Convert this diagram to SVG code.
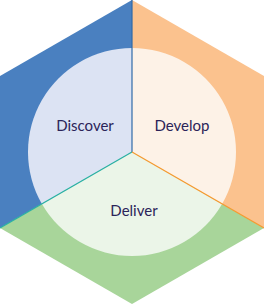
<svg xmlns="http://www.w3.org/2000/svg" width="264" height="304" viewBox="0 0 264 304">
<style>
.lbl{font-family:Lato,"Open Sans",sans-serif;font-size:15px;fill:#2b2459;text-anchor:middle}
.ln{stroke-width:1.2;fill:none}
</style>
<rect width="264" height="304" fill="#ffffff"/>
<g id="discover">
<path d="M132,152 L132,0 L0,76 L0,228 Z" fill="#4a80c0"/>
<path d="M132,152 L132,48 A104,104 0 0 0 41.93,204 Z" fill="#dce3f3"/>
<text class="lbl" x="85" y="131">Discover</text>
</g>
<g id="develop">
<path d="M132,152 L132,0 L264,76 L264,228 Z" fill="#fbc28e"/>
<path d="M132,152 L132,48 A104,104 0 0 1 222.07,204 Z" fill="#fdf2e7"/>
<text class="lbl" x="182" y="131">Develop</text>
</g>
<g id="deliver">
<path d="M132,152 L0,228 L132,304 L264,228 Z" fill="#a8d59a"/>
<path d="M132,152 L41.93,204 A104,104 0 0 0 222.07,204 Z" fill="#ebf5e8"/>
<text class="lbl" x="134" y="216">Deliver</text>
</g>
<g id="connectors">
<line class="ln" x1="132" y1="152" x2="132" y2="0" stroke="#2f6aa8"/>
<line class="ln" x1="132" y1="152" x2="0" y2="228" stroke="#2ab0a4"/>
<line class="ln" x1="132" y1="152" x2="264" y2="228" stroke="#f59a30"/>
</g>
</svg>
